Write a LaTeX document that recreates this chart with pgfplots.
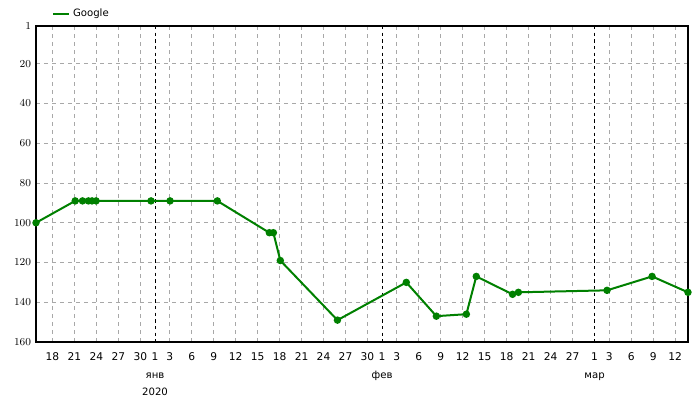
\documentclass[border=0pt]{standalone}
\usepackage{fontspec}
\setmainfont{DejaVu Sans}
\usepackage{pgfplots}
\pgfplotsset{compat=1.18}
\definecolor{gLine}{RGB}{0,128,0}
\definecolor{gGrid}{RGB}{168,168,168}

% x = days from 1 Jan 2020
\pgfplotstableread{
day   pos
-16.25 100
-10.9  89
-9.9   89
-9.1   89
-8.6   89
-8.05  89
-0.55  89
2.05   89
8.5    89
15.6   105
16.15  105
17.1   119
24.9   149
34.3   130
38.4   147
42.5   146
43.85  127
48.8   136
49.6   135
61.7   134
67.85  127
72.75  135
}\google

\begin{document}
\begin{tikzpicture}
\begin{axis}[
  at={(0,0)},anchor=south west,
  width=489pt,height=237pt,scale only axis,
  xmin=-16.25,xmax=72.75,
  ymin=1,ymax=160,y dir=reverse,
  ytick={1,20,40,60,80,100,120,140,160},
  xtick={-14,-11,-8,-5,-2,2,5,8,11,14,17,20,23,26,29,33,36,39,42,45,48,51,54,57,62,65,68,71},
  xticklabels={18,21,24,27,30,3,6,9,12,15,18,21,24,27,30,3,6,9,12,15,18,21,24,27,3,6,9,12},
  extra x ticks={0,31,60},
  extra x tick labels={1,1,1},
  extra x tick style={grid style={black,dash pattern=on 2.5pt off 2.5pt,line width=0.75pt}},
  grid=major,
  grid style={gGrid,dash pattern=on 3pt off 3pt,line width=0.75pt},
  major tick length=0pt,
  axis line style={black,line width=0.9pt},
  tick label style={font=\fontsize{8}{9.6}\selectfont,inner sep=0pt},
  xticklabel style={anchor=north,yshift=-8pt},
  yticklabel style={anchor=east,xshift=-3.5pt},
  legend style={draw=none,fill=none,inner sep=0pt,
    at={(axis description cs:0.0245,1.038)},anchor=west,
    font=\fontsize{7.6}{9}\selectfont,
    nodes={inner sep=2pt}},
  legend image code/.code={\draw[gLine,line width=1.6pt] (0pt,0pt) -- (12pt,0pt);},
]
\addplot[gLine,line width=1.5pt,mark=*,mark size=2pt,mark options={fill=gLine,draw=gLine}] table[x=day,y=pos] {\google};
\addlegendentry{Google}
\coordinate (jan) at (axis cs:0,160);
\coordinate (feb) at (axis cs:31,160);
\coordinate (mar) at (axis cs:60,160);
\end{axis}
\begin{scope}[every node/.style={font=\fontsize{7.6}{9}\selectfont,anchor=base,inner sep=0pt}]
\node at ([yshift=-27pt]jan) {янв};
\node at ([yshift=-39.75pt]jan) {2020};
\node at ([yshift=-27pt]feb) {фев};
\node at ([yshift=-27pt]mar) {мар};
\end{scope}
\pgfresetboundingbox
\path[use as bounding box] (-27pt,-43.5pt) rectangle (498pt,256.5pt);
\end{tikzpicture}
\end{document}
